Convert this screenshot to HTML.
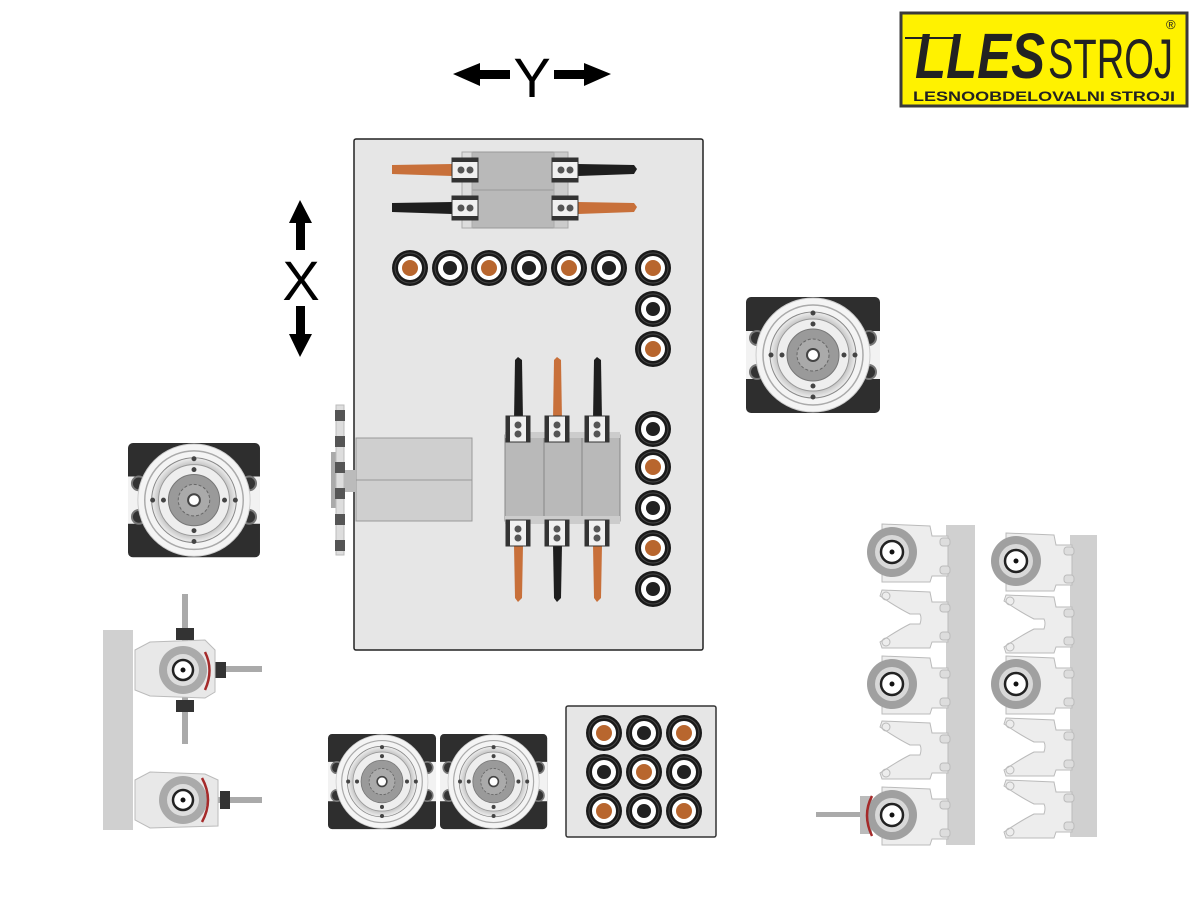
<!DOCTYPE html>
<html><head><meta charset="utf-8"><style>html,body{margin:0;padding:0;background:#fff}svg{display:block}</style></head>
<body>
<svg width="1200" height="900" viewBox="0 0 1200 900" xmlns="http://www.w3.org/2000/svg" font-family="Liberation Sans, sans-serif">
<defs>
  <radialGradient id="ring" cx="50%" cy="50%" r="50%"><stop offset="0.5" stop-color="#fff"/><stop offset="0.8" stop-color="#bbb"/><stop offset="1" stop-color="#eee"/></radialGradient>
  <g id="spin">
    <rect x="0" y="0" width="134" height="116" rx="5" fill="#2e2e2e"/>
    <rect x="0" y="34" width="134" height="48" fill="#f2f2f2"/>
    <circle cx="11" cy="41" r="7" fill="#333" stroke="#777" stroke-width="2"/>
    <circle cx="123" cy="41" r="7" fill="#333" stroke="#777" stroke-width="2"/>
    <circle cx="11" cy="75" r="7" fill="#333" stroke="#777" stroke-width="2"/>
    <circle cx="123" cy="75" r="7" fill="#333" stroke="#777" stroke-width="2"/>
    <circle cx="67" cy="58" r="57" fill="#f4f4f4" stroke="#ccc"/>
    <circle cx="67" cy="58" r="50" fill="none" stroke="#aaa" stroke-width="1.5"/>
    <circle cx="67" cy="58" r="43" fill="url(#ring)" stroke="#888"/>
    <circle cx="67" cy="58" r="36" fill="#eee" stroke="#999"/>
    <circle cx="67" cy="58" r="26" fill="#9a9a9a" stroke="#777"/>
    <circle cx="67" cy="58" r="16" fill="#aaa" stroke="#666" stroke-dasharray="3 2"/>
    <circle cx="67" cy="58" r="6" fill="#fff" stroke="#444" stroke-width="2"/>
    <circle cx="67" cy="16" r="2.5" fill="#444"/><circle cx="67" cy="100" r="2.5" fill="#444"/>
    <circle cx="25" cy="58" r="2.5" fill="#444"/><circle cx="109" cy="58" r="2.5" fill="#444"/>
    <circle cx="67" cy="27" r="2.5" fill="#444"/><circle cx="67" cy="89" r="2.5" fill="#444"/>
    <circle cx="36" cy="58" r="2.5" fill="#444"/><circle cx="98" cy="58" r="2.5" fill="#444"/>
  </g>
  <g id="bO"><circle r="18" fill="#1a1a1a"/><circle r="15" fill="none" stroke="#444" stroke-width="1"/><circle r="12" fill="#fff"/><circle r="8" fill="#b8662e"/></g>
  <g id="bK"><circle r="18" fill="#1a1a1a"/><circle r="15" fill="none" stroke="#444" stroke-width="1"/><circle r="12" fill="#fff"/><circle r="7" fill="#222"/></g>
  <g id="clampH"><rect x="0" y="-12" width="26" height="24" fill="#f0f0f0" stroke="#333"/><rect x="0" y="-12" width="26" height="4" fill="#333"/><rect x="0" y="8" width="26" height="4" fill="#333"/><circle cx="9" cy="0" r="3.5" fill="#555"/><circle cx="18" cy="0" r="3.5" fill="#555"/></g>
  <g id="clampV"><rect x="-12" y="0" width="24" height="26" fill="#f0f0f0" stroke="#333"/><rect x="-12" y="0" width="4" height="26" fill="#333"/><rect x="8" y="0" width="4" height="26" fill="#333"/><circle cx="0" cy="9" r="3.5" fill="#555"/><circle cx="0" cy="18" r="3.5" fill="#555"/></g>
  <g id="holderS">
    <path d="M-10,-28 L38,-26 L40,-16 L56,-16 L56,24 L40,24 L38,30 L-10,30 Z" fill="#ededed" stroke="#bbb"/>
    <rect x="48" y="-14" width="10" height="8" rx="3" fill="#ddd" stroke="#bbb"/>
    <rect x="48" y="14" width="10" height="8" rx="3" fill="#ddd" stroke="#bbb"/>
    <circle r="25" fill="#a0a0a0"/><circle r="17" fill="#d8d8d8"/><circle r="11" fill="#fff" stroke="#222" stroke-width="2.5"/><circle r="2.5" fill="#111"/>
  </g>
  <g id="holderE">
    <path d="M-10,-28 L38,-26 L40,-16 L56,-16 L56,24 L40,24 L38,30 L-10,30 L-12,24 Q6,12 18,6 L28,6 Q30,0 28,-4 L18,-4 Q6,-10 -12,-22 Z" fill="#ededed" stroke="#bbb"/>
    <rect x="48" y="-14" width="10" height="8" rx="3" fill="#ddd" stroke="#bbb"/>
    <rect x="48" y="14" width="10" height="8" rx="3" fill="#ddd" stroke="#bbb"/>
    <circle cx="-6" cy="-22" r="4" fill="none" stroke="#bbb"/><circle cx="-6" cy="24" r="4" fill="none" stroke="#bbb"/>
  </g>
</defs>

<rect x="901" y="13" width="286" height="93" fill="#fff200" stroke="#3a3a3a" stroke-width="3"/>
<text x="915" y="78" font-size="64" font-weight="bold" font-style="italic" fill="#222" textLength="130" lengthAdjust="spacingAndGlyphs">LLES</text>
<text x="1048" y="78" font-size="56" fill="#222" textLength="125" lengthAdjust="spacingAndGlyphs">STROJ</text>
<line x1="905" y1="38" x2="960" y2="38" stroke="#222" stroke-width="2"/>
<text x="1166" y="29" font-size="13" fill="#222">®</text>
<text x="913" y="101" font-size="13.5" font-weight="bold" fill="#222" textLength="262" lengthAdjust="spacingAndGlyphs">LESNOOBDELOVALNI STROJI</text>

<polygon points="453,74 480,63 480,70 510,70 510,79 480,79 480,86" fill="#000"/>
<polygon points="611,74 584,63 584,70 554,70 554,79 584,79 584,86" fill="#000"/>
<text x="532" y="97" font-size="56" text-anchor="middle" fill="#000">Y</text>
<polygon points="300,200 289,223 296,223 296,250 305,250 305,223 312,223" fill="#000"/>
<polygon points="300,357 289,334 296,334 296,306 305,306 305,334 312,334" fill="#000"/>
<text x="301" y="300" font-size="56" text-anchor="middle" fill="#000">X</text>

<rect x="354" y="139" width="349" height="511" rx="2" fill="#e6e6e6" stroke="#222" stroke-width="1.5"/>

<rect x="470" y="152" width="86" height="38" fill="#b9b9b9" stroke="#999"/>
<rect x="470" y="190" width="86" height="38" fill="#b9b9b9" stroke="#999"/>
<rect x="462" y="152" width="10" height="76" fill="#ddd" stroke="#aaa"/>
<rect x="554" y="152" width="14" height="76" fill="#ccc" stroke="#aaa"/>
<path d="M392,165 L452,164 L452,176 L392,174 Z" fill="#c8703a"/>
<path d="M578,164 L634,165 L637,169 L634,174 L578,176 Z" fill="#1e1e1e"/>
<path d="M392,203 L452,202 L452,214 L392,212 Z" fill="#1e1e1e"/>
<path d="M578,202 L634,203 L637,207 L634,212 L578,214 Z" fill="#c8703a"/>
<use href="#clampH" x="452" y="170"/><use href="#clampH" x="552" y="170"/>
<use href="#clampH" x="452" y="208"/><use href="#clampH" x="552" y="208"/>

<use href="#bO" x="410" y="268"/><use href="#bK" x="450" y="268"/><use href="#bO" x="489" y="268"/>
<use href="#bK" x="529" y="268"/><use href="#bO" x="569" y="268"/><use href="#bK" x="609" y="268"/>
<use href="#bO" x="653" y="268"/><use href="#bK" x="653" y="309"/><use href="#bO" x="653" y="349"/>
<use href="#bK" x="653" y="429"/><use href="#bO" x="653" y="467"/><use href="#bK" x="653" y="508"/>
<use href="#bO" x="653" y="548"/><use href="#bK" x="653" y="589"/>

<rect x="505" y="435" width="39" height="86" fill="#b9b9b9" stroke="#888"/>
<rect x="544" y="435" width="38" height="86" fill="#b9b9b9" stroke="#888"/>
<rect x="582" y="435" width="38" height="86" fill="#b9b9b9" stroke="#888"/>
<rect x="505" y="432" width="115" height="6" fill="#ccc"/>
<rect x="505" y="516" width="115" height="8" fill="#ccc"/>
<path d="M515,360 L518,357 L522,360 L523,420 L514,420 Z" fill="#1e1e1e"/>
<path d="M554,360 L557,357 L561,360 L562,420 L553,420 Z" fill="#c8703a"/>
<path d="M594,360 L597,357 L601,360 L602,420 L593,420 Z" fill="#1e1e1e"/>
<path d="M514,545 L523,545 L522,598 L518,602 L515,598 Z" fill="#c8703a"/>
<path d="M553,545 L562,545 L561,598 L557,602 L554,598 Z" fill="#1e1e1e"/>
<path d="M593,545 L602,545 L601,598 L597,602 L594,598 Z" fill="#c8703a"/>
<use href="#clampV" x="518" y="416"/><use href="#clampV" x="557" y="416"/><use href="#clampV" x="597" y="416"/>
<use href="#clampV" x="518" y="520"/><use href="#clampV" x="557" y="520"/><use href="#clampV" x="597" y="520"/>

<rect x="356" y="438" width="116" height="42" fill="#cfcfcf" stroke="#999"/>
<rect x="356" y="480" width="116" height="41" fill="#cfcfcf" stroke="#999"/>
<rect x="344" y="470" width="12" height="22" fill="#bbb"/>
<rect x="331" y="452" width="6" height="56" fill="#aaa"/>
<rect x="336" y="405" width="8" height="150" fill="#ddd" stroke="#bbb"/>
<g fill="#555"><rect x="335" y="410" width="10" height="11"/><rect x="335" y="436" width="10" height="11"/><rect x="335" y="462" width="10" height="11"/><rect x="335" y="488" width="10" height="11"/><rect x="335" y="514" width="10" height="11"/><rect x="335" y="540" width="10" height="11"/></g>

<use href="#spin" x="746" y="297"/>
<use href="#spin" transform="translate(128,443) scale(0.985,0.985)"/>
<use href="#spin" transform="translate(328,734) scale(0.806,0.82)"/>
<use href="#spin" transform="translate(440,734) scale(0.8,0.82)"/>

<rect x="566" y="706" width="150" height="131" rx="2" fill="#e6e6e6" stroke="#333" stroke-width="1.5"/>
<use href="#bO" x="604" y="733"/><use href="#bK" x="644" y="733"/><use href="#bO" x="684" y="733"/>
<use href="#bK" x="604" y="772"/><use href="#bO" x="644" y="772"/><use href="#bK" x="684" y="772"/>
<use href="#bO" x="604" y="811"/><use href="#bK" x="644" y="811"/><use href="#bO" x="684" y="811"/>

<rect x="103" y="630" width="30" height="200" fill="#d0d0d0"/>
<rect x="182" y="594" width="6" height="150" fill="#aaa"/>
<rect x="205" y="666" width="57" height="6" fill="#aaa"/>
<rect x="176" y="628" width="18" height="12" fill="#333"/><rect x="176" y="700" width="18" height="12" fill="#333"/>
<rect x="214" y="662" width="12" height="16" fill="#333"/>
<path d="M135,650 L150,642 L205,640 L215,650 L215,692 L205,698 L150,696 L135,690 Z" fill="#e8e8e8" stroke="#bbb"/>
<circle cx="183" cy="670" r="24" fill="#aaa"/><circle cx="183" cy="670" r="16" fill="#ddd"/><circle cx="183" cy="670" r="10" fill="#fff" stroke="#222" stroke-width="2.5"/><circle cx="183" cy="670" r="2.5" fill="#111"/>
<path d="M205,652 Q214,670 205,690" fill="none" stroke="#a52a2a" stroke-width="2.5"/>
<rect x="205" y="797" width="57" height="6" fill="#aaa"/>
<rect x="220" y="791" width="10" height="18" fill="#333"/>
<path d="M135,780 L150,772 L205,774 L218,780 L218,826 L150,828 L135,820 Z" fill="#e8e8e8" stroke="#bbb"/>
<circle cx="183" cy="800" r="24" fill="#aaa"/><circle cx="183" cy="800" r="16" fill="#ddd"/><circle cx="183" cy="800" r="10" fill="#fff" stroke="#222" stroke-width="2.5"/><circle cx="183" cy="800" r="2.5" fill="#111"/>
<path d="M202,778 Q214,800 202,822" fill="none" stroke="#a52a2a" stroke-width="2.5"/>

<rect x="946" y="525" width="29" height="320" fill="#d0d0d0"/>
<rect x="1070" y="535" width="27" height="302" fill="#d0d0d0"/>
<use href="#holderS" x="892" y="552"/>
<use href="#holderE" x="892" y="618"/>
<use href="#holderS" x="892" y="684"/>
<use href="#holderE" x="892" y="749"/>
<rect x="816" y="812" width="50" height="5" fill="#aaa"/>
<rect x="860" y="796" width="12" height="38" fill="#bbb"/>
<use href="#holderS" x="892" y="815"/>
<path d="M872,796 Q862,815 872,836" fill="none" stroke="#a52a2a" stroke-width="2.5"/>
<use href="#holderS" x="1016" y="561"/>
<use href="#holderE" x="1016" y="623"/>
<use href="#holderS" x="1016" y="684"/>
<use href="#holderE" x="1016" y="746"/>
<use href="#holderE" x="1016" y="808"/>
</svg>
</body></html>
